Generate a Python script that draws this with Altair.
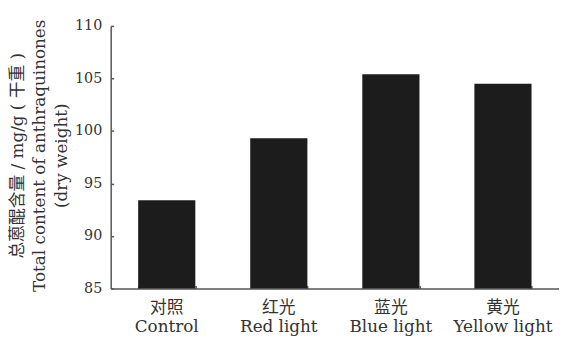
import altair as alt
import pandas as pd

cn_labels = ["对照", "红光", "蓝光", "黄光"]
en_labels = ["Control", "Red light", "Blue light", "Yellow light"]
values = [93.4, 99.3, 105.4, 104.5]
y_ticks = [85, 90, 95, 100, 105, 110]
y_title = ["总蒽醌含量 / mg/g ( 干重 )", "Total content of anthraquinones", "(dry weight)"]

cats = [c + "|" + e for c, e in zip(cn_labels, en_labels)]
df = pd.DataFrame({"cat": cats, "value": values})

FONT = "DejaVu Serif, Noto Sans CJK SC"
FS = 17
TXT = "#333333"
AX = "#555555"

xscale = alt.Scale(domain=cats, paddingInner=0.49, paddingOuter=0.245)
yscale = alt.Scale(domain=[85, 110], zero=False, nice=False)

base = alt.Chart(df)

bars = base.mark_bar(color="#1c1c1c", clip=True).encode(
    x=alt.X("cat:N", sort=cats, scale=xscale,
            axis=alt.Axis(title=None, labelAngle=0, labelExpr="split(datum.label, '|')",
                          labelFont=FONT, labelFontSize=FS, labelLineHeight=19,
                          labelPadding=11, labelBaseline="top", labelColor=TXT,
                          ticks=False, tickSize=0, domainColor=AX, domainWidth=1.5,
                          grid=False, orient="bottom")),
    y=alt.Y("value:Q", scale=yscale,
            axis=alt.Axis(values=y_ticks, title=y_title, grid=False,
                          labelFont=FONT, labelFontSize=14.5, labelColor=TXT,
                          labelPadding=9, ticks=False, tickSize=0,
                          domainColor=AX, domainWidth=1.5,
                          titleFont=FONT, titleFontSize=FS, titleFontWeight="normal",
                          titleColor=TXT, titleLineHeight=22, titleAngle=270,
                          titleX=-102, titleY=131, titleAlign="center",
                          titleBaseline="top", orient="left")),
)

tick_layer = base.mark_bar(opacity=0).encode(
    x=alt.X("cat:N", sort=cats, scale=xscale,
            axis=alt.Axis(title=None, labels=False, domain=False, ticks=True,
                          tickBand="extent", tickSize=3, offset=-3, tickColor=AX,
                          tickWidth=1.5, grid=False, orient="bottom")),
    y=alt.Y("value:Q", scale=yscale,
            axis=alt.Axis(values=y_ticks, title=None, labels=False, domain=False,
                          ticks=True, tickSize=3, offset=-3, tickColor=AX,
                          tickWidth=1.5, grid=False, orient="left")),
)

chart = (
    alt.layer(bars, tick_layer)
    .resolve_axis(x="independent", y="independent")
    .properties(
        width=454, height=266,
        autosize=alt.AutoSizeParams(type="none"),
        padding={"left": 104, "top": 16, "right": 0, "bottom": 52},
        background="white",
    )
    .configure_view(stroke=None)
)

chart.save("out.html", embed_options={"renderer": "svg", "actions": False})
